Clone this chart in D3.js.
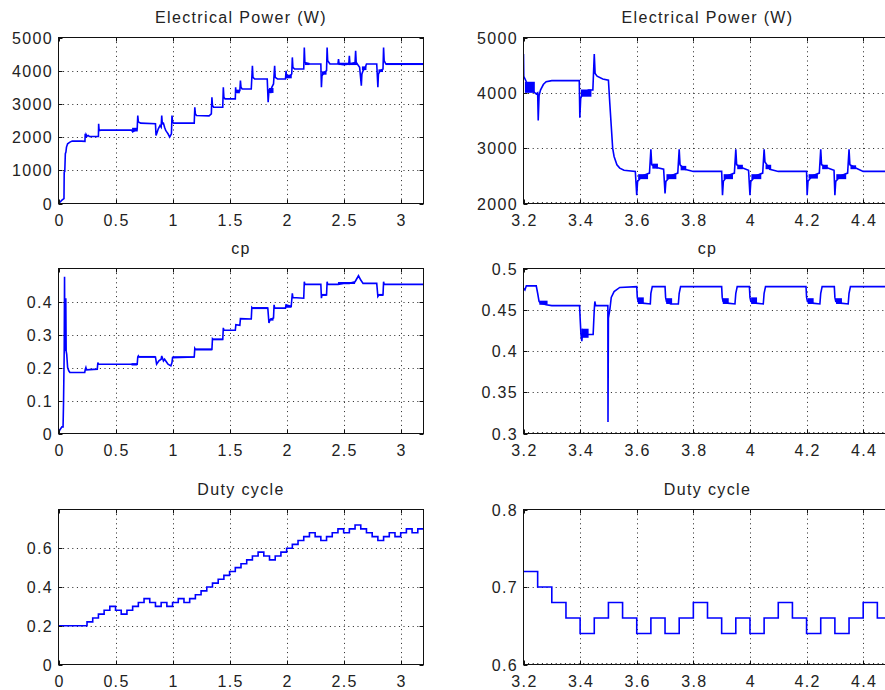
<!DOCTYPE html>
<html><head><meta charset="utf-8">
<script src="https://cdn.jsdelivr.net/npm/d3@7"></script>
<style>
html,body{margin:0;padding:0;background:#fff;}
svg text{font-family:"Liberation Sans",Arial,Helvetica,sans-serif;font-size:16px;fill:#222;letter-spacing:1.35px;}
</style></head>
<body><svg id="c" width="885" height="690"></svg>
<script>
// ---------------- DATA ----------------
const titles = ["Electrical Power (W)", "cp", "Duty cycle"];
const xTicksLeft = [0, 0.5, 1, 1.5, 2, 2.5, 3];
const xTickLabelsLeft = ["0", "0.5", "1", "1.5", "2", "2.5", "3"];
const xTicksRight = [3.2, 3.4, 3.6, 3.8, 4, 4.2, 4.4];
const xTickLabelsRight = ["3.2", "3.4", "3.6", "3.8", "4", "4.2", "4.4"];
const yTicksPowerLeft = [0, 1000, 2000, 3000, 4000, 5000];
const yTicksPowerRight = [2000, 3000, 4000, 5000];
const yTicksCpLeft = [0, 0.1, 0.2, 0.3, 0.4];
const yTickLabelsCpLeft = ["0", "0.1", "0.2", "0.3", "0.4"];
const yTicksCpRight = [0.3, 0.35, 0.4, 0.45, 0.5];
const yTickLabelsCpRight = ["0.3", "0.35", "0.4", "0.45", "0.5"];
const yTicksDutyLeft = [0, 0.2, 0.4, 0.6];
const yTickLabelsDutyLeft = ["0", "0.2", "0.4", "0.6"];
const yTicksDutyRight = [0.6, 0.7, 0.8];
const yTickLabelsDutyRight = ["0.6", "0.7", "0.8"];

// Electrical power, t in s, P in W
const powerLeft = [[0,0],[0.01,30],[0.03,100],[0.048,150],[0.05,950],[0.055,960],[0.06,1500],[0.065,1550],[0.07,1700],[0.08,1800],[0.1,1850],[0.12,1880],[0.2,1880],[0.232,1870],[0.234,2100],[0.238,1980],[0.242,2080],[0.25,2030],[0.26,2050],[0.27,2020],[0.35,2020],[0.352,2400],[0.355,2250],[0.36,2200],[0.37,2210],[0.64,2210],[0.65,2160],[0.69,2250],[0.695,2650],[0.70,2460],[0.72,2420],[0.85,2400],[0.855,2050],[0.865,2150],[0.875,2250],[0.89,2350],[0.9,2300],[0.905,2650],[0.91,2400],[0.92,2420],[0.93,2300],[0.94,2200],[0.95,2150],[0.96,2100],[0.975,2000],[0.99,2100],[0.995,2650],[1.0,2450],[1.01,2420],[1.19,2420],[1.195,2900],[1.2,2700],[1.21,2650],[1.32,2640],[1.34,2700],[1.345,3200],[1.35,2950],[1.36,2900],[1.44,2900],[1.445,3500],[1.45,3200],[1.46,3150],[1.55,3150],[1.553,3500],[1.556,3350],[1.59,3400],[1.595,3700],[1.6,3500],[1.61,3450],[1.69,3450],[1.7,4150],[1.705,3800],[1.72,3750],[1.83,3750],[1.838,3050],[1.845,3400],[1.86,3350],[1.87,3500],[1.885,3600],[1.895,4150],[1.9,3800],[1.92,3750],[1.99,3750],[1.995,4000],[2.0,3800],[2.03,3850],[2.045,3900],[2.05,4400],[2.055,4100],[2.07,4050],[2.15,4050],[2.155,4700],[2.16,4250],[2.2,4200],[2.3,4200],[2.305,3500],[2.31,3850],[2.33,3950],[2.35,4000],[2.355,4700],[2.36,4300],[2.38,4200],[2.45,4200],[2.455,4350],[2.46,4200],[2.5,4180],[2.545,4200],[2.55,4450],[2.555,4200],[2.6,4250],[2.605,4600],[2.61,4250],[2.64,4100],[2.655,3550],[2.66,3900],[2.67,4000],[2.69,4100],[2.7,4200],[2.79,4200],[2.8,3500],[2.805,3900],[2.82,4000],[2.845,4050],[2.85,4700],[2.855,4300],[2.87,4200],[3.2,4200]];
const powerLeftBands = [[0.645,0.695,2170,2280],[1.555,1.59,3320,3430],[1.845,1.885,3330,3480],[1.99,2.045,3770,3880],[2.16,2.2,4170,4240],[2.31,2.35,3880,3980],[2.455,2.62,4170,4240],[2.66,2.7,4020,4130],[2.805,2.845,3960,4040],[2.87,3.2,4170,4230]];

const powerRight = [[3.2,4700],[3.201,4300],[3.21,4200],[3.22,4100],[3.235,4020],[3.245,3980],[3.25,4000],[3.252,3500],[3.255,3950],[3.26,4050],[3.27,4150],[3.28,4200],[3.3,4220],[3.397,4220],[3.399,3550],[3.402,3900],[3.41,4000],[3.43,4050],[3.445,4050],[3.45,4700],[3.453,4350],[3.46,4300],[3.48,4250],[3.5,4230],[3.505,3800],[3.51,3400],[3.515,3000],[3.52,2850],[3.53,2700],[3.54,2640],[3.555,2600],[3.595,2580],[3.6,2150],[3.603,2400],[3.62,2500],[3.645,2550],[3.65,2980],[3.653,2700],[3.67,2650],[3.695,2620],[3.7,2180],[3.703,2400],[3.72,2500],[3.745,2550],[3.75,2980],[3.753,2700],[3.77,2620],[3.8,2580],[3.9,2580],[3.903,2150],[3.906,2400],[3.92,2500],[3.945,2550],[3.95,2980],[3.953,2700],[3.97,2650],[3.995,2600],[4.0,2150],[4.003,2400],[4.02,2500],[4.045,2550],[4.05,2980],[4.053,2750],[4.07,2620],[4.1,2580],[4.2,2580],[4.202,2150],[4.205,2400],[4.22,2500],[4.245,2550],[4.25,2980],[4.253,2700],[4.27,2650],[4.297,2600],[4.3,2150],[4.303,2400],[4.32,2500],[4.345,2550],[4.35,2980],[4.353,2700],[4.37,2650],[4.4,2580],[4.5,2580]];
const powerRightBands = [[3.205,3.24,4000,4200],[3.403,3.44,3930,4060],[3.605,3.64,2440,2530],[3.655,3.675,2630,2720],[3.705,3.74,2440,2530],[3.755,3.775,2600,2680],[3.907,3.94,2440,2530],[3.955,3.975,2620,2700],[4.005,4.04,2440,2530],[4.055,4.075,2620,2700],[4.207,4.24,2450,2530],[4.255,4.275,2620,2700],[4.305,4.34,2440,2530],[4.355,4.375,2620,2690]];

// cp
const cpLeft = [[0,0],[0.01,0.01],[0.03,0.02],[0.04,0.02],[0.044,0.09],[0.05,0.25],[0.053,0.475],[0.056,0.25],[0.06,0.3],[0.064,0.41],[0.067,0.25],[0.072,0.24],[0.08,0.2],[0.09,0.19],[0.1,0.185],[0.23,0.185],[0.235,0.195],[0.24,0.2],[0.245,0.193],[0.34,0.195],[0.345,0.215],[0.35,0.21],[0.64,0.21],[0.69,0.21],[0.695,0.232],[0.70,0.235],[0.705,0.232],[0.85,0.232],[0.86,0.21],[0.87,0.215],[0.88,0.22],[0.9,0.225],[0.905,0.235],[0.91,0.23],[0.92,0.22],[0.93,0.225],[0.95,0.215],[0.96,0.21],[0.985,0.205],[0.995,0.215],[1.0,0.23],[1.19,0.232],[1.195,0.258],[1.2,0.255],[1.345,0.255],[1.35,0.287],[1.355,0.285],[1.44,0.285],[1.445,0.32],[1.45,0.313],[1.55,0.313],[1.555,0.33],[1.59,0.328],[1.595,0.348],[1.69,0.347],[1.695,0.382],[1.7,0.38],[1.835,0.38],[1.845,0.335],[1.855,0.345],[1.885,0.35],[1.89,0.39],[1.895,0.38],[1.99,0.38],[1.995,0.39],[2.04,0.385],[2.05,0.425],[2.055,0.412],[2.15,0.41],[2.155,0.46],[2.16,0.452],[2.3,0.452],[2.305,0.41],[2.31,0.42],[2.35,0.42],[2.355,0.46],[2.36,0.452],[2.45,0.452],[2.5,0.455],[2.55,0.455],[2.6,0.46],[2.63,0.478],[2.65,0.465],[2.67,0.455],[2.79,0.455],[2.8,0.415],[2.81,0.42],[2.845,0.42],[2.85,0.46],[2.855,0.452],[3.2,0.452]];
const cpLeftBands = [[0.64,0.69,0.206,0.213],[0.7,0.85,0.23,0.235],[1.0,1.19,0.23,0.234],[1.2,1.345,0.252,0.257],[1.355,1.44,0.283,0.288],[1.7,1.835,0.377,0.383],[1.855,1.885,0.342,0.349],[1.99,2.04,0.381,0.388],[2.31,2.35,0.417,0.423],[2.45,2.6,0.453,0.459],[2.81,2.845,0.417,0.423]];

const cpRight = [[3.2,0.476],[3.205,0.474],[3.21,0.479],[3.245,0.479],[3.25,0.47],[3.255,0.46],[3.26,0.458],[3.28,0.456],[3.3,0.455],[3.398,0.455],[3.4,0.44],[3.403,0.42],[3.406,0.412],[3.41,0.425],[3.42,0.42],[3.446,0.42],[3.45,0.45],[3.452,0.46],[3.455,0.455],[3.498,0.455],[3.4985,0.314],[3.5,0.44],[3.505,0.45],[3.51,0.465],[3.52,0.472],[3.54,0.477],[3.6,0.478],[3.602,0.465],[3.605,0.46],[3.62,0.458],[3.648,0.457],[3.65,0.47],[3.655,0.478],[3.7,0.478],[3.702,0.465],[3.705,0.46],[3.72,0.457],[3.747,0.457],[3.75,0.47],[3.755,0.478],[3.9,0.478],[3.902,0.465],[3.905,0.46],[3.92,0.458],[3.947,0.457],[3.95,0.47],[3.955,0.478],[3.998,0.478],[4.0,0.465],[4.003,0.46],[4.02,0.458],[4.047,0.457],[4.05,0.47],[4.055,0.478],[4.198,0.478],[4.2,0.465],[4.203,0.46],[4.22,0.458],[4.247,0.457],[4.25,0.47],[4.255,0.478],[4.298,0.478],[4.3,0.465],[4.303,0.46],[4.32,0.458],[4.347,0.457],[4.35,0.47],[4.355,0.478],[4.5,0.478]];
const cpRightBands = [[3.256,3.285,0.456,0.461],[3.404,3.43,0.416,0.427],[3.604,3.625,0.457,0.465],[3.704,3.725,0.457,0.464],[3.904,3.925,0.457,0.464],[4.004,4.025,0.457,0.465],[4.204,4.225,0.457,0.464],[4.304,4.325,0.457,0.464]];

// Duty cycle (step changes: [start time, value])
const dutyLeft = [[0,0.20],[0.25,0.22],[0.30,0.24],[0.35,0.26],[0.40,0.28],[0.45,0.30],[0.50,0.28],[0.55,0.26],[0.60,0.28],[0.65,0.30],[0.70,0.32],[0.75,0.34],[0.80,0.32],[0.85,0.30],[0.90,0.32],[0.95,0.30],[1.00,0.32],[1.05,0.34],[1.10,0.32],[1.15,0.34],[1.20,0.36],[1.25,0.38],[1.30,0.40],[1.35,0.42],[1.40,0.44],[1.45,0.46],[1.50,0.48],[1.55,0.50],[1.60,0.52],[1.65,0.54],[1.70,0.56],[1.75,0.58],[1.80,0.56],[1.85,0.54],[1.90,0.56],[1.95,0.58],[2.00,0.60],[2.05,0.62],[2.10,0.64],[2.15,0.66],[2.20,0.68],[2.25,0.66],[2.30,0.64],[2.35,0.66],[2.40,0.68],[2.45,0.70],[2.50,0.68],[2.55,0.70],[2.60,0.72],[2.65,0.70],[2.70,0.68],[2.75,0.66],[2.80,0.64],[2.85,0.66],[2.90,0.68],[2.95,0.66],[3.00,0.68],[3.05,0.70],[3.10,0.68],[3.15,0.70],[3.20,0.70]];
const dutyRight = [[3.2,0.72],[3.25,0.70],[3.30,0.68],[3.35,0.66],[3.40,0.64],[3.45,0.66],[3.50,0.68],[3.55,0.66],[3.60,0.64],[3.65,0.66],[3.70,0.64],[3.75,0.66],[3.80,0.68],[3.85,0.66],[3.90,0.64],[3.95,0.66],[4.00,0.64],[4.05,0.66],[4.10,0.68],[4.15,0.66],[4.20,0.64],[4.25,0.66],[4.30,0.64],[4.35,0.66],[4.40,0.68],[4.45,0.66],[4.50,0.66]];

// ---------------- DRAW ----------------
const svg = d3.select("#c");
const cols = [{x0:58.5, x1:423.5}, {x0:523.5, x1:891.5}];
const rows = [{y0:37.5, y1:203.5}, {y0:268.5, y1:433.5}, {y0:509.5, y1:664.5}];
const BLUE = "#0000ff";

const panels = [
  {c:0,r:0,title:titles[0],xd:[0,3.2],xt:xTicksLeft,xl:xTickLabelsLeft,yd:[0,5000],yt:yTicksPowerLeft,yl:yTicksPowerLeft.map(String),data:powerLeft,bands:powerLeftBands,step:false,w:1.6},
  {c:1,r:0,title:titles[0],xd:[3.2,4.5],xt:xTicksRight,xl:xTickLabelsRight,yd:[2000,5000],yt:yTicksPowerRight,yl:yTicksPowerRight.map(String),data:powerRight,bands:powerRightBands,step:false,w:1.6,bottomGrid:true},
  {c:0,r:1,title:titles[1],xd:[0,3.2],xt:xTicksLeft,xl:xTickLabelsLeft,yd:[0,0.5],yt:yTicksCpLeft,yl:yTickLabelsCpLeft,data:cpLeft,bands:cpLeftBands,step:false,w:1.6},
  {c:1,r:1,title:titles[1],xd:[3.2,4.5],xt:xTicksRight,xl:xTickLabelsRight,yd:[0.3,0.5],yt:yTicksCpRight,yl:yTickLabelsCpRight,data:cpRight,bands:cpRightBands,step:false,w:1.6,bottomGrid:true},
  {c:0,r:2,title:titles[2],xd:[0,3.2],xt:xTicksLeft,xl:xTickLabelsLeft,yd:[0,0.8],yt:yTicksDutyLeft,yl:yTickLabelsDutyLeft,data:dutyLeft,bands:[],step:true,w:1.6},
  {c:1,r:2,title:titles[2],xd:[3.2,4.5],xt:xTicksRight,xl:xTickLabelsRight,yd:[0.6,0.8],yt:yTicksDutyRight,yl:yTickLabelsDutyRight,data:dutyRight,bands:[],step:true,w:1.6,bottomGrid:true}
];

panels.forEach((p, i) => {
  const {x0, x1} = cols[p.c], {y0, y1} = rows[p.r];
  const x = d3.scaleLinear().domain(p.xd).range([x0, x1]);
  const y = d3.scaleLinear().domain(p.yd).range([y1, y0]);
  const g = svg.append("g");
  const eps = 1e-9;
  // grid
  p.xt.filter(v => v > p.xd[0] + eps && v < p.xd[1] - eps).forEach(v => {
    const xx = Math.round(x(v)) + 0.5;
    g.append("line").attr("x1", xx).attr("x2", xx).attr("y1", y0).attr("y2", y1)
      .attr("stroke", "#222").attr("stroke-width", 1).attr("stroke-dasharray", "1,3.6");
  });
  p.yt.filter(v => v > p.yd[0] + eps && v < p.yd[1] - eps).forEach(v => {
    const yy = Math.round(y(v)) + 0.5;
    g.append("line").attr("x1", x0).attr("x2", x1).attr("y1", yy).attr("y2", yy)
      .attr("stroke", "#222").attr("stroke-width", 1).attr("stroke-dasharray", "1,3.6");
  });
  if (p.bottomGrid) {
    g.append("line").attr("x1", x0).attr("x2", x1).attr("y1", y1 - 1).attr("y2", y1 - 1)
      .attr("stroke", "#222").attr("stroke-width", 1).attr("stroke-dasharray", "1,3.6");
  }
  // clip
  const cid = "clip" + i;
  svg.append("clipPath").attr("id", cid).append("rect")
    .attr("x", x0).attr("y", y0 - 1).attr("width", x1 - x0).attr("height", y1 - y0 + 1);
  const dg = g.append("g").attr("clip-path", `url(#${cid})`);
  dg.selectAll("rect.band").data(p.bands).enter().append("rect").attr("class", "band")
    .attr("x", d => x(d[0])).attr("width", d => x(d[1]) - x(d[0]))
    .attr("y", d => y(d[3])).attr("height", d => y(d[2]) - y(d[3]))
    .attr("fill", BLUE);
  const line = d3.line().x(d => x(d[0])).y(d => y(d[1]))
    .curve(p.step ? d3.curveStepAfter : d3.curveLinear);
  dg.append("path").datum(p.data).attr("d", line)
    .attr("fill", "none").attr("stroke", BLUE).attr("stroke-width", p.w)
    .attr("stroke-linejoin", "miter");
  // box
  g.append("rect").attr("x", x0).attr("y", y0).attr("width", x1 - x0).attr("height", y1 - y0)
    .attr("fill", "none").attr("stroke", "#111").attr("stroke-width", 1);
  // ticks (inside, all sides)
  const TL = 4;
  p.xt.forEach(v => {
    const xx = Math.round(x(v)) + 0.5;
    g.append("line").attr("x1", xx).attr("x2", xx).attr("y1", y1).attr("y2", y1 - TL).attr("stroke", "#111");
    g.append("line").attr("x1", xx).attr("x2", xx).attr("y1", y0).attr("y2", y0 + TL).attr("stroke", "#111");
  });
  p.yt.forEach(v => {
    const yy = Math.round(y(v)) + 0.5;
    g.append("line").attr("x1", x0).attr("x2", x0 + TL).attr("y1", yy).attr("y2", yy).attr("stroke", "#111");
    g.append("line").attr("x1", x1).attr("x2", x1 - TL).attr("y1", yy).attr("y2", yy).attr("stroke", "#111");
  });
  // tick labels
  p.xt.forEach((v, k) => {
    g.append("text").attr("x", x(v) + 1).attr("y", y1 + 22.5).attr("text-anchor", "middle").text(p.xl[k]);
  });
  p.yt.forEach((v, k) => {
    g.append("text").attr("x", x0 - 5.5).attr("y", y(v) + 6).attr("text-anchor", "end").text(p.yl[k]);
  });
  // title
  g.append("text").attr("x", (x0 + x1) / 2).attr("y", y0 - 15).attr("text-anchor", "middle").text(p.title);
});
</script>
</body></html>
